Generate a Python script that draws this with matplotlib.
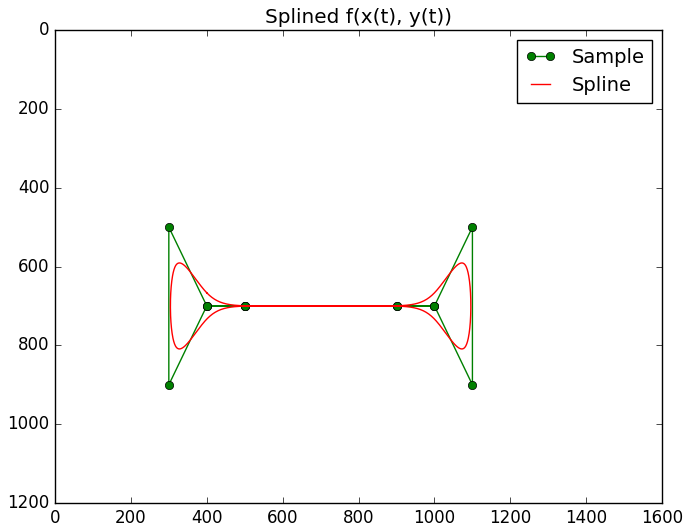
import numpy as np
import matplotlib
matplotlib.use('Agg')
import matplotlib.pyplot as plt

plt.style.use('classic')

# closed path of sample points (x, y)
sample_x = [500, 400, 300, 300, 400, 500, 900, 1000, 1100, 1100, 1000, 900, 500]
sample_y = [700, 700, 500, 900, 700, 700, 700, 700, 500, 900, 700, 700, 700]


def periodic_bspline(px, py, steps=60):
    # uniform cubic B-spline over a closed control polygon
    px = np.asarray(px[:-1], float)
    py = np.asarray(py[:-1], float)
    n = len(px)
    t = np.linspace(0, 1, steps, endpoint=False)
    b0 = (1 - t) ** 3 / 6
    b1 = (3 * t ** 3 - 6 * t ** 2 + 4) / 6
    b2 = (-3 * t ** 3 + 3 * t ** 2 + 3 * t + 1) / 6
    b3 = t ** 3 / 6
    xs, ys = [], []
    for i in range(n):
        idx = [(i + k) % n for k in range(4)]
        xs.append(b0 * px[idx[0]] + b1 * px[idx[1]] + b2 * px[idx[2]] + b3 * px[idx[3]])
        ys.append(b0 * py[idx[0]] + b1 * py[idx[1]] + b2 * py[idx[2]] + b3 * py[idx[3]])
    xs = np.concatenate(xs)
    ys = np.concatenate(ys)
    return np.append(xs, xs[0]), np.append(ys, ys[0])


spline_x, spline_y = periodic_bspline(sample_x, sample_y)

fig = plt.figure(figsize=(6.83, 5.27), dpi=100)
ax = fig.add_axes([0.0805, 0.0455, 0.889, 0.8975])
ax.plot(sample_x, sample_y, 'go-', label='Sample')
ax.plot(spline_x, spline_y, 'r-', label='Spline')
ax.set_xlim(0, 1600)
ax.set_ylim(1200, 0)
ax.set_title('Splined f(x(t), y(t))')
ax.legend(loc='upper right', fontsize=14, handlelength=1.6)

fig.savefig('out.png', dpi=100)
